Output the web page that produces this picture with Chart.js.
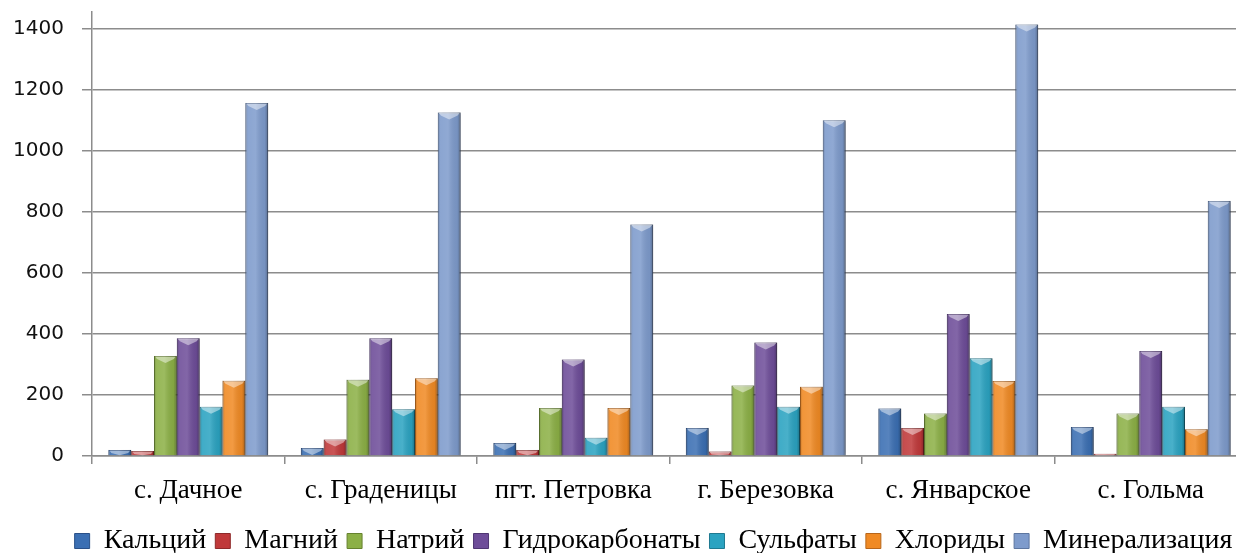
<!DOCTYPE html>
<html>
<head>
<meta charset="utf-8">
<script src="https://cdn.jsdelivr.net/npm/chart.js@4/dist/chart.umd.min.js"></script>
<style>
  html, body { margin: 0; padding: 0; background: #fff; overflow: hidden; width: 1236px; height: 553px; }
  #wrap { position: relative; width: 1290px; height: 565px; }
</style>
</head>
<body>
<div id="wrap"><canvas id="c" width="1290" height="565"></canvas></div>
<script>
// Settlements along the x axis
const categories = ['с. Дачное', 'с. Граденицы', 'пгт. Петровка', 'г. Березовка', 'с. Январское', 'с. Гольма'];

// Concentrations per settlement, mg/l
const calcium      = [20, 26, 43, 92, 156, 95];
const magnesium    = [16, 54, 20, 15, 92, 7];
const sodium       = [328, 250, 157, 231, 139, 139];
const bicarbonates = [386, 386, 316, 372, 465, 344];
const sulfates     = [161, 153, 60, 161, 320, 161];
const chlorides    = [247, 255, 157, 227, 246, 88];
const mineral      = [1157, 1126, 759, 1100, 1414, 836];

const seriesNames = ['Кальций', 'Магний', 'Натрий', 'Гидрокарбонаты', 'Сульфаты', 'Хлориды', 'Минерализация'];
const seriesValues = [calcium, magnesium, sodium, bicarbonates, sulfates, chlorides, mineral];
const seriesColors = ['#3b6fb3', '#c0393a', '#8cb046', '#6e4d99', '#2ba3c1', '#f08a24', '#7e9bcc'];
const seriesEdges  = ['#2a5088', '#8e2a2a', '#66822f', '#4f3672', '#1f7a91', '#b8661a', '#5d76a0'];

// Y axis tick labels
const yTicks = [0, 200, 400, 600, 800, 1000, 1200, 1400];
const yMax = 1455;

// Bevelled look for the columns: side shading, a light cap and a soft shadow
const bevel = {
  id: 'bevel',
  beforeDatasetDraw(chart) {
    const ctx = chart.ctx;
    ctx.save();
    ctx.shadowColor = 'rgba(0,0,0,0.28)';
    ctx.shadowBlur = 4;
    ctx.shadowOffsetX = 2;
    ctx.shadowOffsetY = 0;
  },
  afterDatasetDraw(chart, args) {
    const ctx = chart.ctx;
    ctx.restore();
    ctx.save();
    args.meta.data.forEach(bar => {
      const p = bar.getProps(['x', 'y', 'base', 'width'], true);
      const x0 = p.x - p.width / 2, x1 = p.x + p.width / 2;
      const h = p.base - p.y;
      if (h <= 0) return;
      const g = ctx.createLinearGradient(x0, 0, x1, 0);
      g.addColorStop(0, 'rgba(0,0,0,0.22)');
      g.addColorStop(0.12, 'rgba(255,255,255,0.10)');
      g.addColorStop(0.45, 'rgba(255,255,255,0.14)');
      g.addColorStop(0.85, 'rgba(0,0,0,0.06)');
      g.addColorStop(1, 'rgba(0,0,0,0.30)');
      ctx.fillStyle = g;
      ctx.fillRect(x0, p.y, p.width, h);
      const cap = Math.min(7, h), side = Math.min(3, h);
      ctx.beginPath();
      ctx.moveTo(x0 + 1, p.y + 0.5);
      ctx.lineTo(x1 - 1, p.y + 0.5);
      ctx.lineTo(x1 - 3, p.y + side);
      ctx.lineTo(p.x, p.y + cap);
      ctx.lineTo(x0 + 3, p.y + side);
      ctx.closePath();
      ctx.fillStyle = 'rgba(255,255,255,0.45)';
      ctx.fill();
    });
    ctx.restore();
  }
};

// Centre the legend row under the whole chart block rather than the padded area
const legendShift = {
  id: 'legendShift',
  afterLayout(chart) {
    const lg = chart.legend;
    if (!lg) return;
    lg.left += 30;
    lg.right += 30;
  }
};

const datasets = seriesNames.map((name, i) => ({
  label: name,
  data: seriesValues[i],
  backgroundColor: seriesColors[i],
  borderColor: seriesEdges[i],
  borderWidth: 1,
  barPercentage: 1.0,
  categoryPercentage: 0.83
}));

new Chart(document.getElementById('c'), {
  type: 'bar',
  data: { labels: categories, datasets },
  plugins: [bevel, legendShift],
  options: {
    responsive: false,
    animation: false,
    devicePixelRatio: 1,
    layout: { padding: { left: 0, right: 43, top: 12, bottom: 0 } },
    plugins: {
      tooltip: { enabled: false },
      legend: {
        position: 'bottom',
        align: 'center',
        labels: {
          font: { family: '"Liberation Serif"', size: 28 },
          color: '#000',
          boxWidth: 15,
          boxHeight: 15,
          padding: 9
        }
      }
    },
    scales: {
      x: {
        grid: { display: true, drawOnChartArea: false, drawTicks: true, tickLength: 8, color: '#8c8c8c', lineWidth: 1.5, offset: true },
        border: { display: true, color: '#8c8c8c', width: 1.5 },
        ticks: { font: { family: '"Liberation Serif"', size: 27 }, color: '#000', padding: 11, maxRotation: 0, autoSkip: false },
        afterFit: s => { s.height = 62; s.paddingLeft = 0; s.paddingRight = 0; }
      },
      y: {
        min: 0,
        max: yMax,
        afterBuildTicks: s => { s.ticks = yTicks.map(v => ({ value: v })); },
        grid: { color: '#8c8c8c', lineWidth: 1.5, tickLength: 10 },
        border: { display: true, color: '#8c8c8c', width: 1.5 },
        ticks: {
          font: { family: '"DejaVu Sans"', size: 20 },
          color: '#111',
          padding: 18,
          callback: v => String(v)
        },
        afterFit: s => { s.width = 92; s.paddingTop = 0; s.paddingBottom = 0; }
      }
    }
  }
});
</script>
</body>
</html>
